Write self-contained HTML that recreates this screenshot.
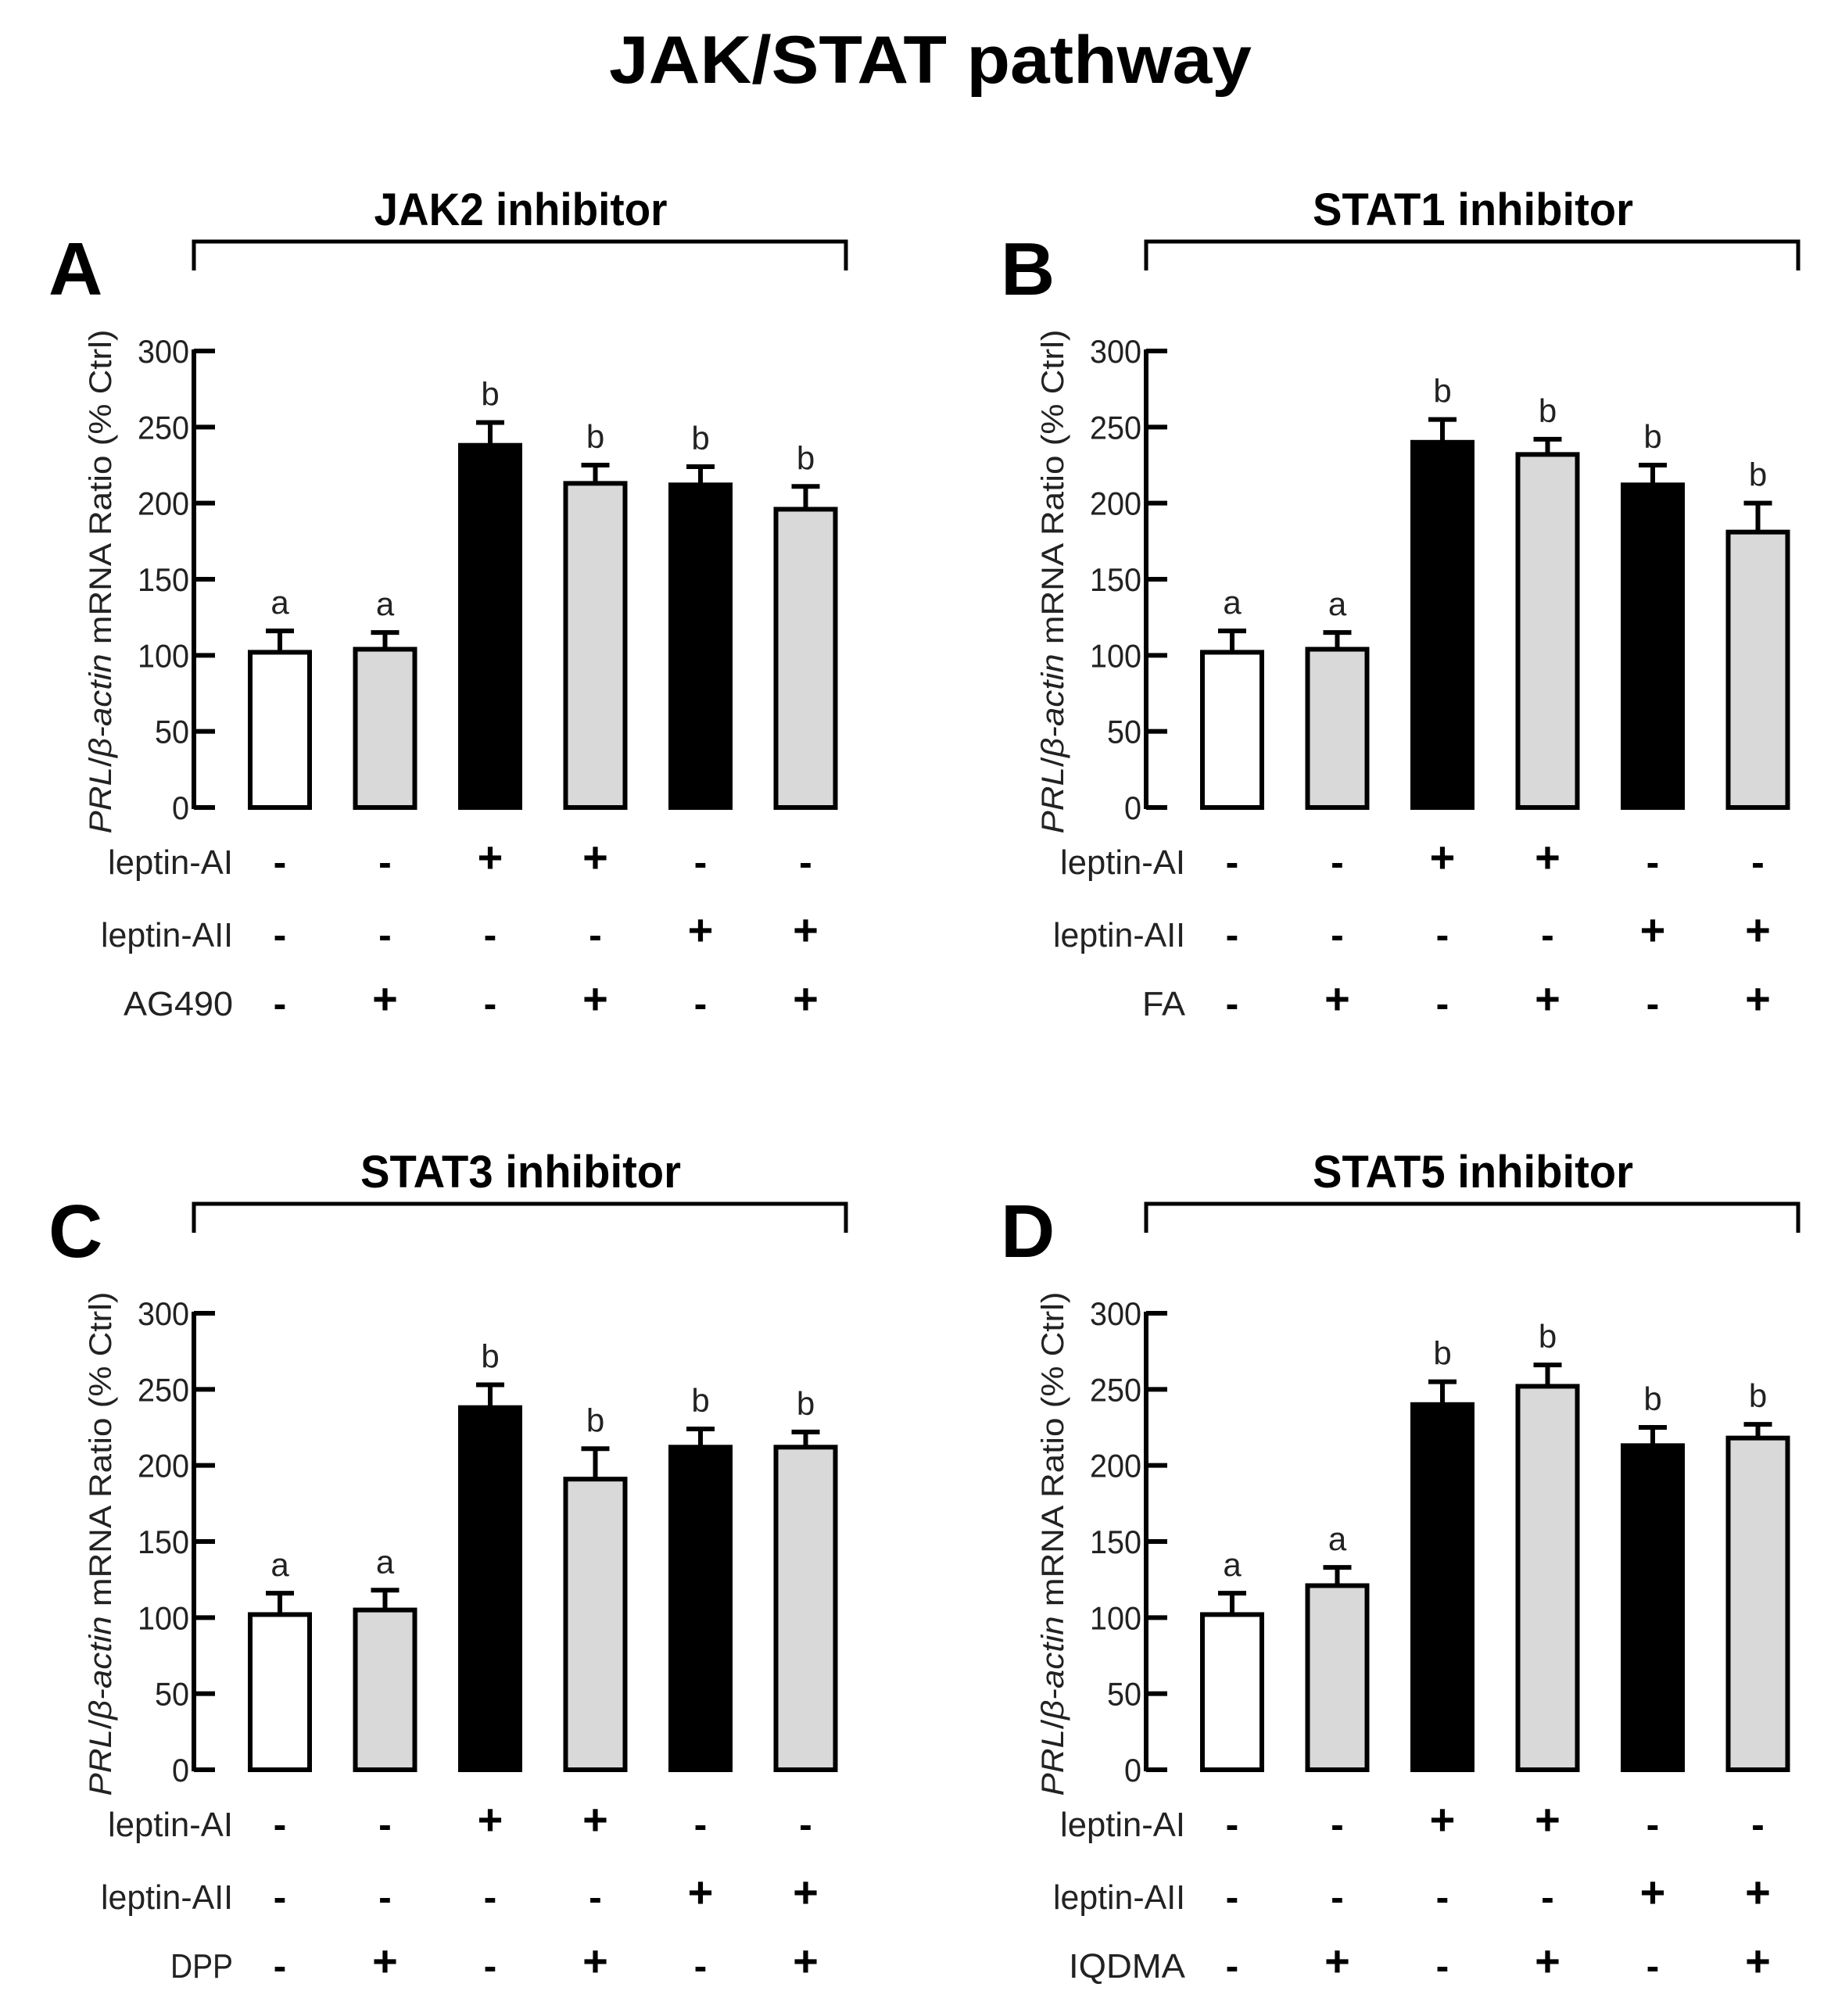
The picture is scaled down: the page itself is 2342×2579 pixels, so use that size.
<!DOCTYPE html>
<html><head><meta charset="utf-8"><style>
html,body{margin:0;padding:0;background:#fff}
svg{display:block}
text{font-family:"Liberation Sans",sans-serif}
</style></head><body>
<svg id="fig" width="2342" height="2579" viewBox="0 0 2342 2579" xmlns="http://www.w3.org/2000/svg">
<text x="1190" y="106" font-size="86" font-weight="bold" text-anchor="middle" textLength="822" lengthAdjust="spacingAndGlyphs">JAK/STAT  pathway</text>
</svg>
<script>
const panelLetters = ["A","B","C","D"];
const panelTitles = ["JAK2 inhibitor","STAT1 inhibitor","STAT3 inhibitor","STAT5 inhibitor"];
const inhibitorNames = ["AG490","FA","DPP","IQDMA"];
const meansA = [102,104,238,213,212,196];
const errA = [14,11,15,12,12,15];
const meansB = [102,104,240,232,212,181];
const errB = [14,11,15,10,13,19];
const meansC = [102,105,238,191,212,212];
const errC = [14,13,15,20,12,10];
const meansD = [102,121,240,252,213,218];
const errD = [14,12,15,14,12,9];
const sigLetters = ["a","a","b","b","b","b"];
const barFills = ["#ffffff","#d9d9d9","#000000","#d9d9d9","#000000","#d9d9d9"];
const rowLeptinAI = ["-","-","+","+","-","-"];
const rowLeptinAII = ["-","-","-","-","+","+"];
const rowInhibitor = ["-","+","-","+","-","+"];
const yTicks = [0,50,100,150,200,250,300];

const svg = document.getElementById('fig');
const NS = 'http://www.w3.org/2000/svg';
function mk(tag, attrs, parent){
  const e = document.createElementNS(NS, tag);
  for (const k in attrs) e.setAttribute(k, attrs[k]);
  (parent||svg).appendChild(e);
  return e;
}
const allMeans = [meansA, meansB, meansC, meansD];
const allErr = [errA, errB, errC, errD];
const offX = [0,1218,0,1218];
const offY = [0,0,1231,1231];
const inhibLen = {"AG490":140,"FA":55,"DPP":80,"IQDMA":149};

for (let p = 0; p < 4; p++) {
  const ox = offX[p], oy = offY[p];
  const g = mk('g', {});
  
  
  const axX = 248 + ox, y0 = 1033 + oy, y300 = 449 + oy;
  const yScale = v => y0 - (v / 300) * (y0 - y300);
  const xCenter = i => 358 + ox + i * 134.5;
  const L = mk('text', {x: 62 + ox, y: 377 + oy, 'font-size': 96, 'font-weight': 'bold'}, g);
  L.textContent = panelLetters[p];
  
  
  const T = mk('text', {x: 666 + ox, y: 288 + oy, 'font-size': 58, 'font-weight': 'bold', 'text-anchor': 'middle', textLength: p === 0 ? 375 : 410, lengthAdjust: 'spacingAndGlyphs'}, g);
  T.textContent = panelTitles[p];
  
  
  const B = mk('path', {d: `M${248+ox},${346+oy} V${309+oy} H${1082+ox} V${346+oy}`, fill: 'none', stroke: '#000', 'stroke-width': 5}, g);
  
  
  const A = mk('line', {x1: axX, y1: y300 - 2, x2: axX, y2: y0 + 2, stroke: '#000', 'stroke-width': 6}, g);
  
  
  yTicks.forEach(t => {
    const ty = yScale(t);
    const tk = mk('line', {x1: axX, y1: ty, x2: axX + 27, y2: ty, stroke: '#000', 'stroke-width': 6}, g);
    
    
    const tl = mk('text', {x: axX - 6, y: ty + 15, 'font-size': 42, 'text-anchor': 'end', fill: '#222', textLength: String(t).length * 22, lengthAdjust: 'spacingAndGlyphs'}, g);
    tl.textContent = t;
    
    
  });
  const yt = mk('text', {transform: `translate(${142+ox},${744+oy}) rotate(-90)`, 'font-size': 40, 'text-anchor': 'middle', fill: '#222', textLength: 645, lengthAdjust: 'spacingAndGlyphs'}, g);
  yt.innerHTML = '<tspan font-style="italic">PRL</tspan>/<tspan font-style="italic">β-actin</tspan> mRNA Ratio (% Ctrl)';
  
  
  const means = allMeans[p], errs = allErr[p];
  for (let i = 0; i < 6; i++) {
    const cx = xCenter(i), w = 76;
    const top = yScale(means[i]), etop = yScale(means[i] + errs[i]);
    const eb = mk('line', {x1: cx, y1: top, x2: cx, y2: etop, stroke: '#000', 'stroke-width': 6}, g);
    
    
    const ec = mk('line', {x1: cx - 18, y1: etop, x2: cx + 18, y2: etop, stroke: '#000', 'stroke-width': 6}, g);
    
    
    const r = mk('rect', {x: cx - w/2, y: top, width: w, height: y0 - top, fill: barFills[i], stroke: '#000', 'stroke-width': 6}, g);
    
    
    const s = mk('text', {x: cx, y: etop - 22, 'font-size': 42, 'text-anchor': 'middle', fill: '#222'}, g);
    s.textContent = sigLetters[i];
    
    
  }
  const rows = [rowLeptinAI, rowLeptinAII, rowInhibitor];
  const rowNames = ['leptin-AI', 'leptin-AII', inhibitorNames[p]];
  const rowLens = [160, 169, inhibLen[inhibitorNames[p]]];
  const rowY = [1102, 1195, 1283];
  for (let r = 0; r < 3; r++) {
    const ry = rowY[r] + oy;
    const rl = mk('text', {x: 298 + ox, y: ry + 16, 'font-size': 44, 'text-anchor': 'end', fill: '#222', textLength: rowLens[r], lengthAdjust: 'spacingAndGlyphs'}, g);
    rl.textContent = rowNames[r];
    
    
    for (let i = 0; i < 6; i++) {
      const cx = xCenter(i);
      const sym = mk('text', {x: cx, y: ry + (rows[r][i] === '+' ? 14 : 18), 'font-size': rows[r][i] === '+' ? 56 : 50, 'font-weight': 'bold', 'text-anchor': 'middle'}, g);
      sym.textContent = rows[r][i] === '+' ? '+' : '-';
      
      
    }
  }
}
</script>
</body></html>
